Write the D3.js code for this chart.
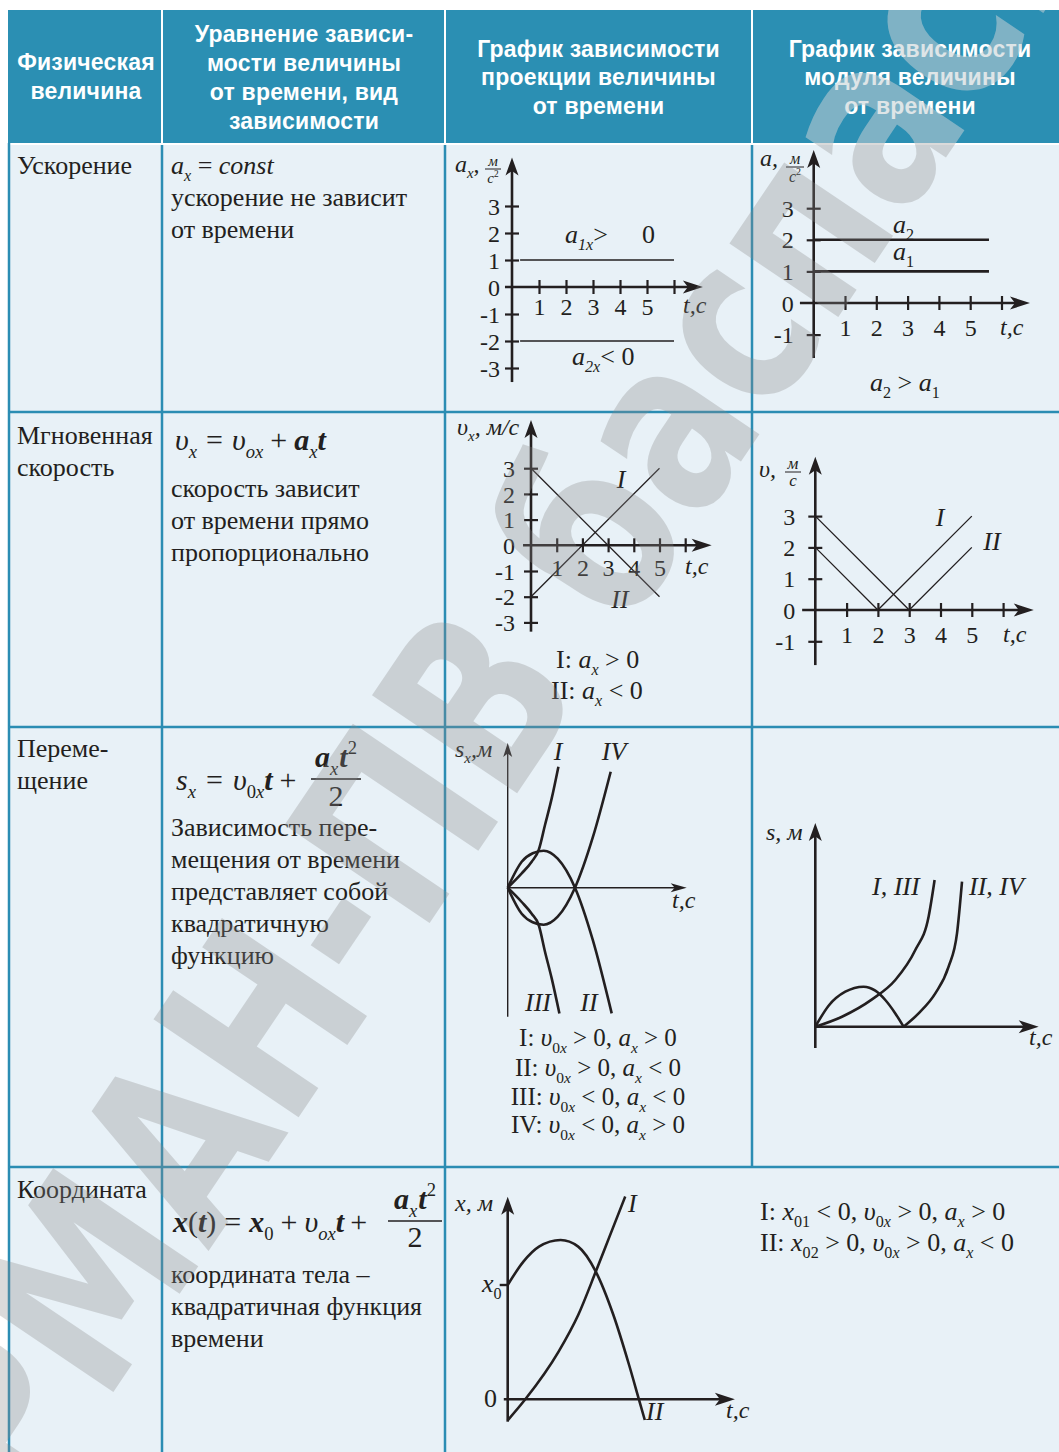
<!DOCTYPE html>
<html>
<head>
<meta charset="utf-8">
<script src="https://cdn.jsdelivr.net/npm/d3@7"></script>
<style>
  body { margin: 0; background: #fff; }
</style>
</head>
<body>
<div id="chart"></div>
<script>
// Page size and table grid
const W = 1059;
const H = 1452;
const colX = [8, 162, 445, 752, 1059];
const rowY = [10, 143, 412, 727, 1167, 1452];

const ink = "#231f20";
const headFill = "#2b8fb3";
const cellFill = "#e8f1f7";
const gridColor = "#2b8db3";
const serif = "'Liberation Serif', 'Times New Roman', serif";
const sans = "'Liberation Sans', Arial, sans-serif";

// Table texts
const headerLines = [
  ["Физическая", "величина"],
  ["Уравнение зависи-", "мости величины", "от времени, вид", "зависимости"],
  ["График зависимости", "проекции величины", "от времени"],
  ["График зависимости", "модуля величины", "от времени"]
];
const quantityNames = [["Ускорение"], ["Мгновенная", "скорость"], ["Переме-", "щение"], ["Координата"]];
const descriptionLines = [
  ["ускорение не зависит", "от времени"],
  ["скорость зависит", "от времени прямо", "пропорционально"],
  ["Зависимость пере-", "мещения от времени", "представляет собой", "квадратичную", "функцию"],
  ["координата тела –", "квадратичная функция", "времени"]
];

// Time ticks shared by the numeric graphs
const tTicks = [1, 2, 3, 4, 5, 6];
const tLabels = [1, 2, 3, 4, 5];

// Acceleration projection a_x(t), m/s^2
const accelProjLabels = [3, 2, 1, 0, -1, -2, -3];
const accelProjValues = [1, -2];
const accelProjSpan = [0.3, 6];

// Acceleration modulus a(t)
const accelModLabels = [3, 2, 1, 0, -1];
const accelModValues = [1, 2];
const accelModSpan = [0, 5.6];

// Velocity projection v_x(t), m/s
const velProjLabels = [3, 2, 1, 0, -1, -2, -3];
const velProjI = [[0, -2], [5, 3]];
const velProjII = [[0, 3], [5, -2]];

// Velocity modulus v(t)
const velModLabels = [3, 2, 1, 0, -1];
const velModI = [[0, 2], [2, 0], [5, 3]];
const velModII = [[0, 3], [3, 0], [5, 2]];

// Displacement projection s_x(t) (arbitrary units)
const dispI = [[0, 0], [1.4, 1.43], [2.4, 2.6], [3.1, 3.77], [3.73, 6.27], [4.4, 8.93], [5.07, 12.1]];
const dispII = [[0, 0], [1.4, 2.6], [2.5, 3.45], [3.6, 3.7], [5.0, 2.9], [6.73, 0], [8.5, -5.2], [10.4, -12.57]];
const dispIII = [[0, 0], [1.4, -1.43], [2.4, -2.6], [3.1, -3.73], [3.73, -6.4], [4.4, -9.07], [5.17, -12.57]];
const dispIV = [[0, 0], [1.4, -2.6], [2.5, -3.45], [3.6, -3.7], [5.0, -2.9], [6.73, 0], [8.5, 5.0], [10.3, 11.6]];

// Path length s(t) (arbitrary units)
const distIandIII = [[0, 0], [2.67, 1], [5.67, 2.73], [8, 4.67], [10, 7.67], [11.33, 11], [11.93, 14.67]];
const distIIandIVhump = [[0, 0], [1.33, 2.1], [3, 3.5], [4.83, 4], [6, 3.6], [7, 2.67], [8, 1.33], [8.83, 0]];
const distIIandIVrise = [[8.83, 0], [10.33, 1.33], [12, 3.33], [13.33, 6], [14.17, 9.33], [14.67, 14.5]];

// Coordinate x(t) (arbitrary units)
const coordX0 = 11.43;
const coordI = [[0, -2.1], [1.76, 0], [5.09, 4.77], [7.05, 8.43], [8.81, 12.77], [10.18, 16.27], [11.75, 20.27]];
const coordII = [[0, 11.43], [1.57, 13.77], [3.13, 15.27], [5.29, 15.93], [7.05, 15.27], [8.81, 12.77], [10.57, 8.43], [12.14, 3.43], [13.12, 0], [13.71, -2.07]];

const watermark = "АРМАН-ПВ баспасы";

const svg = d3.select("#chart").append("svg")
  .attr("width", W)
  .attr("height", H)
  .style("font-family", serif);

svg.append("rect").attr("width", W).attr("height", H).attr("fill", "#fff");

// ---------- helpers ----------
function line(g, x1, y1, x2, y2, color, width) {
  return g.append("line")
    .attr("x1", x1).attr("y1", y1).attr("x2", x2).attr("y2", y2)
    .attr("stroke", color).attr("stroke-width", width);
}

// Text made of pieces: flags "I" italic, "B" bold, "_" subscript, "^" superscript; third item = dx
function rich(g, x, y, parts, size, anchor) {
  const t = g.append("text")
    .attr("x", x).attr("y", y)
    .attr("font-size", size)
    .attr("font-family", serif)
    .attr("text-anchor", anchor || "start")
    .attr("fill", ink)
    .style("white-space", "pre");
  let shift = 0;
  parts.forEach(([str, f = "", dx = 0]) => {
    const target = f.includes("_") ? size * 0.27 : f.includes("^") ? -size * 0.42 : 0;
    const s = t.append("tspan").text(str).attr("dy", target - shift);
    if (dx) s.attr("dx", dx);
    shift = target;
    if (target !== 0) s.attr("font-size", size * 0.62);
    if (f.includes("I")) s.attr("font-style", "italic");
    if (f.includes("B")) s.attr("font-weight", "bold");
  });
  return t;
}

function fraction(g, cx, yBar, halfW, numParts, denParts, size, numDy, denDy, barW) {
  rich(g, cx, yBar - numDy, numParts, size, "middle");
  line(g, cx - halfW, yBar, cx + halfW, yBar, ink, barW || 1.3);
  rich(g, cx, yBar + denDy, denParts, size, "middle");
}

function arrowUp(g, x, yTip, len, wid) {
  g.append("path")
    .attr("d", `M${x},${yTip} L${x - wid / 2},${yTip + len} L${x},${yTip + len * 0.75} L${x + wid / 2},${yTip + len} Z`)
    .attr("fill", ink);
}

function arrowRight(g, xTip, y, len, wid) {
  g.append("path")
    .attr("d", `M${xTip},${y} L${xTip - len},${y - wid / 2} L${xTip - len * 0.75},${y} L${xTip - len},${y + wid / 2} Z`)
    .attr("fill", ink);
}

// Graph with numbered axes (one unit = ux / uy pixels)
function numericGraph(cfg) {
  const g = svg.append("g");
  const x = d3.scaleLinear().domain([0, 1]).range([cfg.ox, cfg.ox + cfg.ux]);
  const y = d3.scaleLinear().domain([0, 1]).range([cfg.oy, cfg.oy - cfg.uy]);

  line(g, x(0), y(cfg.yMin), x(0), y(cfg.yMax) + 10, ink, 2.6);
  arrowUp(g, x(0), y(cfg.yMax), 18, 13);
  line(g, x(cfg.xMin), y(0), x(cfg.xMax) - 10, y(0), ink, 2.6);
  arrowRight(g, x(cfg.xMax), y(0), 20, 13);

  const xa = g.append("g")
    .attr("transform", `translate(0,${y(0)})`)
    .call(d3.axisBottom(x).tickValues(tTicks).tickSizeOuter(0).tickSizeInner(7)
      .tickFormat(d => tLabels.includes(d) ? String(d) : ""));
  xa.select(".domain").remove();
  xa.attr("font-family", serif).attr("font-size", 24);
  xa.selectAll(".tick line").attr("y1", -7).attr("stroke", ink).attr("stroke-width", 2.2);
  xa.selectAll(".tick text").attr("y", cfg.xLabelY).attr("dy", null).attr("fill", ink);

  const ya = g.append("g")
    .attr("transform", `translate(${x(0)},0)`)
    .call(d3.axisLeft(y).tickValues(cfg.yLabels).tickSizeOuter(0).tickSizeInner(7)
      .tickFormat(d => String(d)));
  ya.select(".domain").remove();
  ya.attr("font-family", serif).attr("font-size", 24);
  ya.selectAll(".tick line").attr("x1", 7).attr("stroke", ink).attr("stroke-width", 2.2);
  ya.selectAll(".tick").filter(d => d === 0).select("line").remove();
  ya.selectAll(".tick text").attr("x", cfg.yLabelX).attr("dy", "0.34em").attr("fill", ink);

  return { g, x, y };
}

// Graph with unnumbered axes (one unit = 10 px)
function plainGraph(cfg) {
  const g = svg.append("g");
  const x = d3.scaleLinear().domain([0, 1]).range([cfg.ox, cfg.ox + 10]);
  const y = d3.scaleLinear().domain([0, 1]).range([cfg.oy, cfg.oy - 10]);
  const sw = cfg.thin ? 1.4 : 2.6;
  const al = cfg.thin ? 14 : 18;
  const aw = cfg.thin ? 9 : 13;
  line(g, x(0), y(cfg.yMin), x(0), y(cfg.yMax) + 8, ink, sw);
  arrowUp(g, x(0), y(cfg.yMax), al, aw);
  line(g, x(cfg.xMin), y(0), x(cfg.xMax) - 8, y(0), ink, sw);
  arrowRight(g, x(cfg.xMax), y(0), al + 2, aw);
  return { g, x, y };
}

function drawPath(gr, data, width, curved) {
  const gen = d3.line().x(d => gr.x(d[0])).y(d => gr.y(d[1]));
  if (curved) gen.curve(d3.curveMonotoneX);
  gr.g.append("path")
    .attr("d", gen(data))
    .attr("fill", "none")
    .attr("stroke", ink)
    .attr("stroke-width", width)
    .attr("stroke-linejoin", "round");
}

// ---------- table ----------
const table = svg.append("g");
table.append("rect").attr("x", colX[0]).attr("y", rowY[0])
  .attr("width", W - colX[0]).attr("height", rowY[1] - rowY[0]).attr("fill", headFill);
table.append("rect").attr("x", colX[0]).attr("y", rowY[1])
  .attr("width", W - colX[0]).attr("height", H - rowY[1]).attr("fill", cellFill);

[colX[1], colX[2], colX[3]].forEach(x => line(table, x, rowY[0], x, rowY[1], "#fff", 2));
line(table, colX[0], rowY[1] + 1, W, rowY[1] + 1, "#fff", 2);
line(table, colX[0] + 1, rowY[1], colX[0] + 1, H, gridColor, 2.5);
line(table, colX[1], rowY[1] + 2, colX[1], H, gridColor, 2.5);
line(table, colX[2], rowY[1] + 2, colX[2], H, gridColor, 2.5);
line(table, colX[3], rowY[1] + 2, colX[3], rowY[4], gridColor, 2.5);
[rowY[2], rowY[3], rowY[4]].forEach(y => line(table, colX[0], y, W, y, gridColor, 2.5));

// header texts
const headerCenters = [86, 304, 598.5, 910];
const headerBaselines = [[70, 99], [42, 71, 100, 129], [57, 85, 114], [57, 85, 114]];
headerLines.forEach((lines, c) => {
  table.selectAll(null)
    .data(lines)
    .enter()
    .append("text")
    .attr("x", headerCenters[c])
    .attr("y", (d, i) => headerBaselines[c][i])
    .attr("text-anchor", "middle")
    .attr("font-family", sans)
    .attr("font-weight", "bold")
    .attr("font-size", 23)
    .attr("letter-spacing", 0.2)
    .attr("fill", "#fff")
    .text(d => d);
});

// first column: quantity names
const nameBaselines = [[174], [444, 476], [757, 789], [1198]];
quantityNames.forEach((lines, r) => {
  table.selectAll(null)
    .data(lines)
    .enter()
    .append("text")
    .attr("x", 17)
    .attr("y", (d, i) => nameBaselines[r][i])
    .attr("font-size", 26)
    .attr("fill", ink)
    .text(d => d);
});

// second column: descriptions
const descStart = [206, 497, 836, 1283];
descriptionLines.forEach((lines, r) => {
  table.selectAll(null)
    .data(lines)
    .enter()
    .append("text")
    .attr("x", 171)
    .attr("y", (d, i) => descStart[r] + i * 32)
    .attr("font-size", 26)
    .attr("fill", ink)
    .text(d => d);
});

// formulas
rich(table, 171, 174, [["a", "I"], ["x", "I_"], [" = ", ""], ["const", "I"]], 26);
rich(table, 175, 450, [["υ", "I"], ["x", "I_"], ["=", "", 9], ["υ", "I", 9], ["ox", "I_"], ["+", "", 7],
  ["a", "IB", 7], ["x", "I_"], ["t", "IB"]], 30);
rich(table, 176, 790, [["s", "I"], ["x", "I_"], ["=", "", 10], ["υ", "I", 10], ["0", "_"], ["x", "I_"], ["t", "IB"],
  ["+", "", 7]], 30);
fraction(table, 336, 779, 25, [["a", "IB"], ["x", "I_"], ["t", "IB", 1], ["2", "^"]], [["2", ""]], 30, 12, 27);
rich(table, 173, 1232, [["x", "IB"], ["(", ""], ["t", "IB"], [")", ""], ["=", "", 8], ["x", "IB", 8], ["0", "_"],
  ["+", "", 7], ["υ", "I", 7], ["ox", "I_"], ["t", "IB"], ["+", "", 6]], 30);
fraction(table, 415, 1221, 27, [["a", "IB"], ["x", "I_"], ["t", "IB", 1], ["2", "^"]], [["2", ""]], 30, 12, 26);

// ---------- graph 1: a_x(t) ----------
const g1 = numericGraph({ ox: 512, oy: 287, ux: 27, uy: 27, yMin: -3.52, yMax: 4.8, xMin: -0.26, xMax: 7.07,
  yLabels: accelProjLabels, yLabelX: -12, xLabelY: 28 });
accelProjValues.forEach(v => drawPath(g1, accelProjSpan.map(t => [t, v]), 1.5, false));
rich(g1.g, 565, 243, [["a", "I"], ["1x", "I_"], [">", ""]], 26);
rich(g1.g, 642, 243, [["0", ""]], 26);
rich(g1.g, 572, 365, [["a", "I"], ["2x", "I_"], ["< 0", ""]], 26);
rich(g1.g, 455, 172, [["a", "I"], ["x", "I_"], [",", ""]], 24);
fraction(g1.g, 493, 169, 8, [["м", "I"]], [["c", "I"], ["2", "^"]], 15, 3, 14, 1);
rich(g1.g, 683, 313, [["t,c", "I"]], 24);

// ---------- graph 2: a(t) ----------
const g2 = numericGraph({ ox: 813.7, oy: 303, ux: 31.3, uy: 31.6, yMin: -1.74, yMax: 4.84, xMin: -0.44, xMax: 6.91,
  yLabels: accelModLabels, yLabelX: -20, xLabelY: 33 });
accelModValues.forEach(v => drawPath(g2, accelModSpan.map(t => [t, v]), 2.6, false));
rich(g2.g, 893, 233, [["a", "I"], ["2", "_"]], 26);
rich(g2.g, 893, 260, [["a", "I"], ["1", "_"]], 26);
rich(g2.g, 870, 391, [["a", "I"], ["2", "_"], [" > ", ""], ["a", "I"], ["1", "_"]], 26);
rich(g2.g, 760, 166, [["a,", "I"]], 24);
fraction(g2.g, 795, 167, 9, [["м", "I"]], [["c", "I"], ["2", "^"]], 16, 3, 15, 1);
rich(g2.g, 1000, 335, [["t,c", "I"]], 24);

// ---------- graph 3: v_x(t) ----------
const g3 = numericGraph({ ox: 531, oy: 545.3, ux: 25.7, uy: 25.7, yMin: -3.36, yMax: 4.88, xMin: -0.31, xMax: 7.03,
  yLabels: velProjLabels, yLabelX: -16, xLabelY: 31 });
drawPath(g3, velProjI, 1.3, false);
drawPath(g3, velProjII, 1.3, false);
rich(g3.g, 621, 488, [["I", "I"]], 26, "middle");
rich(g3.g, 620, 608, [["II", "I"]], 26, "middle");
rich(g3.g, 457, 435, [["υ", "I"], ["x", "I_"], [", м/c", "I"]], 24);
rich(g3.g, 685, 574, [["t,c", "I"]], 24);
rich(g3.g, 556, 668, [["I: ", ""], ["a", "I"], ["x", "I_"], [" > 0", ""]], 26);
rich(g3.g, 551, 699, [["II: ", ""], ["a", "I"], ["x", "I_"], [" < 0", ""]], 26);

// ---------- graph 4: v(t) ----------
const g4 = numericGraph({ ox: 815.3, oy: 610, ux: 31.3, uy: 31.3, yMin: -1.76, yMax: 4.9, xMin: -0.42, xMax: 6.98,
  yLabels: velModLabels, yLabelX: -20, xLabelY: 33 });
drawPath(g4, velModI, 1.3, false);
drawPath(g4, velModII, 1.3, false);
rich(g4.g, 940, 526, [["I", "I"]], 26, "middle");
rich(g4.g, 992, 550, [["II", "I"]], 26, "middle");
rich(g4.g, 759, 477, [["υ,", "I"]], 24);
fraction(g4.g, 793, 472, 8, [["м", "I"]], [["c", "I"]], 17, 3, 14, 1);
rich(g4.g, 1003, 642, [["t,c", "I"]], 24);

// ---------- graph 5: s_x(t) ----------
const g5 = plainGraph({ ox: 507.7, oy: 887.7, yMin: -12.9, yMax: 14.47, xMin: 0, xMax: 17.9, thin: true });
[dispI, dispII, dispIII, dispIV].forEach(d => drawPath(g5, d, 2.6, true));
rich(g5.g, 455, 757, [["s", "I"], ["x", "I_"], [",м", "I"]], 24);
rich(g5.g, 558, 760, [["I", "I"]], 26, "middle");
rich(g5.g, 614, 760, [["IV", "I"]], 26, "middle");
rich(g5.g, 538, 1011, [["III", "I"]], 26, "middle");
rich(g5.g, 589, 1011, [["II", "I"]], 26, "middle");
rich(g5.g, 672, 908, [["t,c", "I"]], 24);
const dispLegend = [
  [["I: ", ""], ["υ", "I"], ["0", "_"], ["x", "I_"], [" > 0, ", ""], ["a", "I"], ["x", "I_"], [" > 0", ""]],
  [["II: ", ""], ["υ", "I"], ["0", "_"], ["x", "I_"], [" > 0, ", ""], ["a", "I"], ["x", "I_"], [" < 0", ""]],
  [["III: ", ""], ["υ", "I"], ["0", "_"], ["x", "I_"], [" < 0, ", ""], ["a", "I"], ["x", "I_"], [" < 0", ""]],
  [["IV: ", ""], ["υ", "I"], ["0", "_"], ["x", "I_"], [" < 0, ", ""], ["a", "I"], ["x", "I_"], [" > 0", ""]]
];
const dispLegendY = [1046, 1076, 1105, 1133];
dispLegend.forEach((p, i) => rich(g5.g, 598, dispLegendY[i], p, 25, "middle"));

// ---------- graph 6: s(t) ----------
const g6 = plainGraph({ ox: 815.3, oy: 1026.7, yMin: -2.13, yMax: 20.37, xMin: 0, xMax: 22.34, thin: false });
[distIandIII, distIIandIVhump, distIIandIVrise].forEach(d => drawPath(g6, d, 2.6, true));
rich(g6.g, 766, 840, [["s, м", "I"]], 24);
rich(g6.g, 872, 895, [["I, III", "I"]], 26);
rich(g6.g, 969, 895, [["II, IV", "I"]], 26);
rich(g6.g, 1029, 1045, [["t,c", "I"]], 24);

// ---------- graph 7: x(t) ----------
const g7 = plainGraph({ ox: 507.7, oy: 1399.3, yMin: -2.24, yMax: 20.26, xMin: -0.39, xMax: 22.72, thin: false });
line(g7.g, g7.x(-0.8), g7.y(coordX0), g7.x(0), g7.y(coordX0), ink, 2.4);
drawPath(g7, coordI, 2.6, true);
drawPath(g7, coordII, 2.6, true);
rich(g7.g, 455, 1211, [["x, м", "I"]], 24);
rich(g7.g, 482, 1292, [["x", "I"], ["0", "_"]], 26);
rich(g7.g, 497, 1407, [["0", ""]], 26, "end");
rich(g7.g, 628, 1212, [["I", "I"]], 26);
rich(g7.g, 646, 1420, [["II", "I"]], 26);
rich(g7.g, 726, 1418, [["t,c", "I"]], 24);
rich(g7.g, 760, 1220, [["I: ", ""], ["x", "I"], ["01", "_"], [" < 0, ", ""], ["υ", "I"], ["0", "_"], ["x", "I_"],
  [" > 0, ", ""], ["a", "I"], ["x", "I_"], [" > 0", ""]], 26);
rich(g7.g, 760, 1251, [["II: ", ""], ["x", "I"], ["02", "_"], [" > 0, ", ""], ["υ", "I"], ["0", "_"], ["x", "I_"],
  [" > 0, ", ""], ["a", "I"], ["x", "I_"], [" < 0", ""]], 26);

// ---------- watermark ----------
const defs = svg.append("defs");
defs.append("clipPath").attr("id", "clipHead").append("rect")
  .attr("x", colX[0]).attr("y", rowY[0]).attr("width", W).attr("height", rowY[1] - rowY[0]);
defs.append("clipPath").attr("id", "clipBody").append("rect")
  .attr("x", 0).attr("y", rowY[1]).attr("width", W).attr("height", H);

[["clipHead", "#c4d0d5", 0.55], ["clipBody", "#878787", 0.3]].forEach(([clip, color, op]) => {
  svg.append("g").attr("clip-path", `url(#${clip})`)
    .append("text")
    .attr("transform", "translate(-54,1640) rotate(-56) scale(0.78,1)")
    .attr("font-family", "'DejaVu Sans', sans-serif")
    .attr("font-weight", "bold")
    .attr("font-size", 240)
    .attr("fill", color)
    .attr("opacity", op)
    .style("white-space", "pre")
    .text(watermark);
});
</script>
</body>
</html>
